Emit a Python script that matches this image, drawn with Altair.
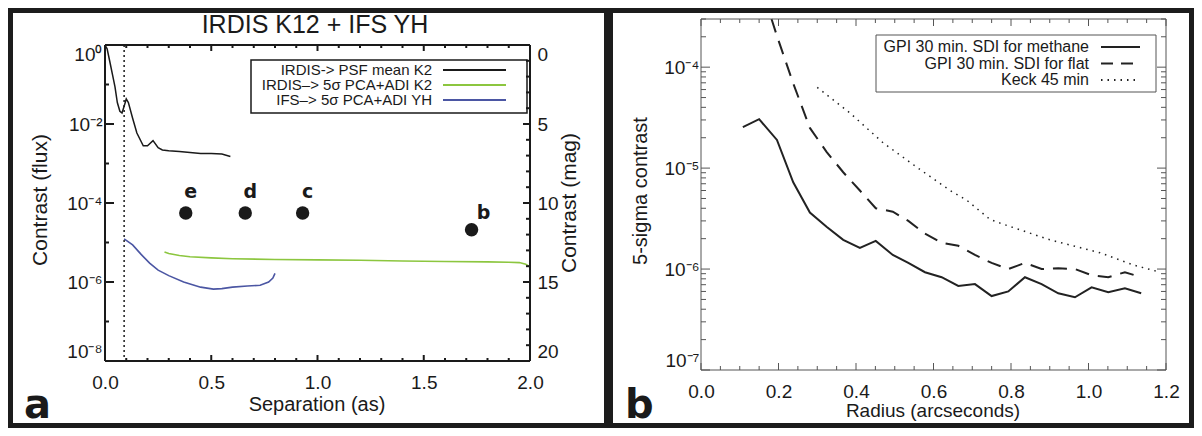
import altair as alt
import pandas as pd

FONT = "Liberation Sans"
BOLD_FONT = "DejaVu Sans"
INK = "#1a1a1a"
FRAME = "#1c1c1c"
GREY = "#555555"

# ---------------- panel a : data ----------------
title_a = "IRDIS K12 + IFS YH"
xlabel_a = "Separation (as)"
ylabel_a = "Contrast (flux)"
ylabel2_a = "Contrast (mag)"
tag_a = "a"

psf_sep = [0.0, 0.01, 0.024, 0.035, 0.047, 0.058, 0.07, 0.08, 0.09, 0.1, 0.11, 0.13,
           0.15, 0.18, 0.2, 0.226, 0.25, 0.27, 0.3, 0.35, 0.4, 0.45, 0.5, 0.55, 0.59]
psf_flux = [1.0, 0.8, 0.35, 0.18, 0.087, 0.035, 0.021, 0.019, 0.028, 0.043, 0.035, 0.014,
            0.0059, 0.0028, 0.0028, 0.0038, 0.0025, 0.0022, 0.0021, 0.002, 0.0019, 0.0018,
            0.0018, 0.00174, 0.0015]

k2_sep = [0.28, 0.30, 0.35, 0.40, 0.50, 0.60, 0.80, 1.00, 1.20, 1.40, 1.60, 1.80, 1.90, 1.95, 1.98, 2.00]
k2_flux = [5.75e-6, 5.25e-6, 4.68e-6, 4.37e-6, 4.07e-6, 3.89e-6, 3.72e-6, 3.63e-6, 3.55e-6,
           3.39e-6, 3.31e-6, 3.24e-6, 3.16e-6, 3.1e-6, 2.82e-6, 2.4e-6]

yh_sep = [0.09, 0.13, 0.17, 0.21, 0.25, 0.30, 0.37, 0.45, 0.51, 0.55, 0.60, 0.67, 0.73, 0.77, 0.79, 0.80]
yh_flux = [1.23e-5, 8.7e-6, 5.0e-6, 3.0e-6, 2.0e-6, 1.45e-6, 1.0e-6, 7.4e-7, 6.6e-7, 6.8e-7,
           7.4e-7, 7.9e-7, 8.3e-7, 1.0e-6, 1.26e-6, 1.66e-6]

planet_names = ["e", "d", "c", "b"]
planet_sep = [0.38, 0.66, 0.93, 1.725]
planet_flux = [5.6e-5, 5.6e-5, 5.6e-5, 2.1e-5]

iwa_sep = [0.09]

legend_a_labels = ["IRDIS-> PSF mean K2", "IRDIS\u2013> 5\u03c3 PCA+ADI K2", "IFS\u2013> 5\u03c3 PCA+ADI YH"]
legend_a_colors = [INK, "#8cc63f", "#4b56a3"]

ax_major = [0.0, 0.5, 1.0, 1.5, 2.0]
ax_minor = [0.1, 0.2, 0.3, 0.4, 0.6, 0.7, 0.8, 0.9, 1.1, 1.2, 1.3, 1.4, 1.6, 1.7, 1.8, 1.9]
ay_major = [1.0, 1e-2, 1e-4, 1e-6, 1e-8]
ay_labels = ["10\u2070", "10\u207b\u00b2", "10\u207b\u2074", "10\u207b\u2076", "10\u207b\u2078"]
ay_minor = [1e-1, 1e-3, 1e-5, 1e-7]
amag_major = [0, 5, 10, 15, 20]
amag_minor = [1, 2, 3, 4, 6, 7, 8, 9, 11, 12, 13, 14, 16, 17, 18, 19]

# ---------------- panel b : data ----------------
xlabel_b = "Radius (arcseconds)"
ylabel_b = "5-sigma contrast"
tag_b = "b"

meth_r = [0.108, 0.150, 0.196, 0.238, 0.281, 0.324, 0.367, 0.410, 0.451, 0.495, 0.535, 0.578,
          0.621, 0.664, 0.707, 0.750, 0.793, 0.836, 0.879, 0.922, 0.965, 1.008, 1.051, 1.094, 1.136]
meth_c = [2.55e-5, 3.05e-5, 1.9e-5, 7.24e-6, 3.63e-6, 2.63e-6, 1.95e-6, 1.62e-6, 1.9e-6, 1.38e-6,
          1.15e-6, 9.3e-7, 8.3e-7, 6.8e-7, 7.1e-7, 5.4e-7, 6.0e-7, 8.3e-7, 7.1e-7, 5.75e-7,
          5.25e-7, 6.6e-7, 5.9e-7, 6.45e-7, 5.75e-7]

flat_r = [0.182, 0.196, 0.238, 0.281, 0.324, 0.367, 0.410, 0.451, 0.495, 0.535, 0.578, 0.621,
          0.664, 0.707, 0.750, 0.793, 0.836, 0.879, 0.922, 0.965, 1.008, 1.051, 1.094, 1.136]
flat_c = [3.0e-4, 2.04e-4, 6.9e-5, 2.5e-5, 1.45e-5, 9.1e-6, 6.0e-6, 4.0e-6, 3.7e-6, 3.0e-6,
          2.24e-6, 1.82e-6, 1.7e-6, 1.38e-6, 1.15e-6, 1.0e-6, 1.15e-6, 1.0e-6, 1.02e-6, 1.0e-6,
          8.7e-7, 8.3e-7, 9.3e-7, 8.3e-7]

keck_r = [0.30, 0.385, 0.47, 0.557, 0.643, 0.686, 0.746, 0.772, 0.90, 1.03, 1.115, 1.185]
keck_c = [6.3e-5, 3.5e-5, 1.78e-5, 1.02e-5, 6.0e-6, 4.8e-6, 3.1e-6, 2.85e-6, 1.95e-6, 1.45e-6,
          1.1e-6, 9.3e-7]

legend_b_labels = ["GPI 30 min. SDI for methane", "GPI 30 min. SDI for flat", "Keck 45 min"]

bx_major = [0.0, 0.2, 0.4, 0.6, 0.8, 1.0, 1.2]
bx_minor = [0.05, 0.1, 0.15, 0.25, 0.3, 0.35, 0.45, 0.5, 0.55, 0.65, 0.7, 0.75,
            0.85, 0.9, 0.95, 1.05, 1.1, 1.15]
by_major = [1e-7, 1e-6, 1e-5, 1e-4]
by_labels = ["10\u207b\u2077", "10\u207b\u2076", "10\u207b\u2075", "10\u207b\u2074"]
by_minor = [k * 10.0 ** e for e in (-7, -6, -5) for k in range(2, 10)] + [2e-4, 3e-4]

# ---------------- layout (panel-local pixels) ----------------
PW_A, PW_B, PH = 600, 586, 420          # whole framed panels
AX0, AX1, AY0, AY1 = 97, 522, 37, 353   # plot area of panel a
BX0, BX1, BY0, BY1 = 93, 558, 11, 362   # plot area of panel b
one = pd.DataFrame({"k": [0]})


def label_expr(vals, labels):
    expr = "''"
    for v, lab in sorted(zip(vals, labels)):
        expr = f"datum.value > {v * 0.5!r} ? '{lab}' : " + expr
    return expr


def strip(x1, x2, y1, y2):
    return alt.Chart(one).mark_rect(color=FRAME).encode(
        x=alt.value(x1), x2=alt.value(x2), y=alt.value(y1), y2=alt.value(y2))


def frame(W, H, tl, tr, tt, tb):
    return [strip(0, W, 0, tt), strip(0, W, H - tb, H),
            strip(0, tl, 0, H), strip(W - tr, W, 0, H)]


def box(x0, x1, y0, y1, color, w):
    base = alt.Chart(one).mark_rule(color=color, strokeWidth=w)
    return [base.encode(x=alt.value(x0), x2=alt.value(x1), y=alt.value(y0)),
            base.encode(x=alt.value(x0), x2=alt.value(x1), y=alt.value(y1)),
            base.encode(x=alt.value(x0), y=alt.value(y0), y2=alt.value(y1)),
            base.encode(x=alt.value(x1), y=alt.value(y0), y2=alt.value(y1))]


def text(s, x, y, size, align="center", baseline="alphabetic", angle=0, font=FONT,
         weight="normal", color=INK):
    return alt.Chart(one).mark_text(text=s, fontSize=size, align=align, baseline=baseline,
                                    angle=angle, font=font, fontWeight=weight, color=color).encode(
        x=alt.value(x), y=alt.value(y))


def xticks(vals, X, y0, y1, L, color, w):
    base = alt.Chart(pd.DataFrame({"x": vals})).mark_rule(color=color, strokeWidth=w)
    return [base.encode(x=X, y=alt.value(y1 - L), y2=alt.value(y1)),
            base.encode(x=X, y=alt.value(y0), y2=alt.value(y0 + L))]


def yticks(vals, Y, x0, x1, L, color, w, left=True, right=True):
    base = alt.Chart(pd.DataFrame({"y": vals})).mark_rule(color=color, strokeWidth=w)
    out = []
    if left:
        out.append(base.encode(y=Y, x=alt.value(x0), x2=alt.value(x0 + L)))
    if right:
        out.append(base.encode(y=Y, x=alt.value(x1 - L), x2=alt.value(x1)))
    return out


def legend_row(label, color, tx, sx1, sx2, y, size, dash=None, width=1.5):
    kw = {"strokeDash": dash} if dash else {}
    rule = alt.Chart(one).mark_rule(color=color, strokeWidth=width, **kw).encode(
        x=alt.value(sx1), x2=alt.value(sx2), y=alt.value(y))
    return [text(label, tx, y, size, align="right", baseline="middle"), rule]


def curve(xs, ys, color, w, X, Y, dash=None):
    kw = {"strokeDash": dash} if dash else {}
    return alt.Chart(pd.DataFrame({"x": xs, "y": ys})).mark_line(
        color=color, strokeWidth=w, **kw).encode(x=X, y=Y)


def lab_axis(**kw):
    base = dict(labelFont=FONT, labelFontSize=19, labelColor=INK, ticks=False, tickSize=0,
                domain=False, grid=False, title=None)
    base.update(kw)
    return alt.Axis(**base)


# ---------------- panel a ----------------
Xa = alt.X("x:Q", scale=alt.Scale(domain=[0, 2], range=[AX0, AX1], nice=False, zero=False),
           axis=lab_axis(values=ax_major, format=".1f", labelFlush=False, labelPadding=12,
                         orient="bottom", offset=AY1 - PH))
Ya = alt.Y("y:Q", scale=alt.Scale(type="log", domain=[1e-8, 1], range=[AY1, AY0], nice=False),
           axis=lab_axis(values=ay_major, labelExpr=label_expr(ay_major, ay_labels),
                         labelPadding=3, labelFlush=True, orient="left", offset=-AX0))
Ymag = alt.Y("y:Q", scale=alt.Scale(domain=[0, 20], range=[AY0, AY1], nice=False, zero=False),
             axis=lab_axis(values=amag_major, format="d", labelPadding=7, labelFlush=True,
                           orient="right", offset=AX1 - PW_A))

planets = pd.DataFrame({"x": planet_sep, "y": planet_flux, "name": planet_names})

layers_a = []
layers_a += frame(PW_A, PH, 5, 4, 5, 5)
layers_a.append(alt.Chart(pd.DataFrame({"x": iwa_sep})).mark_rule(
    color=INK, strokeWidth=1.5, strokeDash=[2, 3]).encode(x=Xa, y=alt.value(AY0), y2=alt.value(AY1)))
layers_a += xticks(ax_major, Xa, AY0, AY1, 6, INK, 2)
layers_a += xticks(ax_minor, Xa, AY0, AY1, 3, INK, 2)
layers_a += yticks(ay_major, Ya, AX0, AX1, 9, INK, 2, right=False)
layers_a += yticks(ay_minor, Ya, AX0, AX1, 4, INK, 2, right=False)
layers_a.append(curve(psf_sep, psf_flux, legend_a_colors[0], 1.5, Xa, Ya))
layers_a.append(curve(k2_sep, k2_flux, legend_a_colors[1], 1.6, Xa, Ya))
layers_a.append(curve(yh_sep, yh_flux, legend_a_colors[2], 1.6, Xa, Ya))
layers_a.append(alt.Chart(planets).mark_circle(size=180, color=INK, opacity=1).encode(x=Xa, y=Ya))
layers_a.append(alt.Chart(planets).transform_filter("datum.name != 'b'").mark_text(
    font=BOLD_FONT, fontWeight="bold", fontSize=19, dx=5, dy=-21, color=INK).encode(
    x=Xa, y=Ya, text="name:N"))
layers_a.append(alt.Chart(planets).transform_filter("datum.name == 'b'").mark_text(
    font=BOLD_FONT, fontWeight="bold", fontSize=19, dx=12, dy=-17, color=INK).encode(
    x=Xa, y=Ya, text="name:N"))
layers_a.append(alt.Chart(one).mark_rect(fill="white", stroke=INK, strokeWidth=1.5).encode(
    x=alt.value(243), x2=alt.value(519), y=alt.value(52), y2=alt.value(105)))
for i, (lab, col) in enumerate(zip(legend_a_labels, legend_a_colors)):
    layers_a += legend_row(lab, col, 424, 435, 498, 62 + 15 * i, 15, width=2)
layers_a += box(AX0, AX1, AY0, AY1, INK, 2)
layers_a.append(text(title_a, 307, 25, 25))
layers_a.append(text(xlabel_a, 309, 403, 20))
layers_a.append(text(ylabel_a, 33, 192, 21, baseline="middle", angle=270))
layers_a.append(text(ylabel2_a, 562, 195, 21, baseline="middle", angle=270))
layers_a.append(text(tag_a, 16, 410, 40, align="left", font=BOLD_FONT, weight="bold"))

flux_a = alt.layer(*layers_a)
mag_a = alt.layer(*yticks(amag_major, Ymag, AX0, AX1, 7, INK, 2, left=False),
                  *yticks(amag_minor, Ymag, AX0, AX1, 4, INK, 2, left=False))
chart_a = alt.layer(flux_a, mag_a).resolve_scale(y="independent").properties(width=PW_A, height=PH)

# ---------------- panel b ----------------
Xb = alt.X("x:Q", scale=alt.Scale(domain=[0, 1.2], range=[BX0, BX1], nice=False, zero=False),
           axis=lab_axis(values=bx_major, format=".1f", labelFlush=False, labelPadding=12,
                         orient="bottom", offset=BY1 - PH))
Yb = alt.Y("y:Q", scale=alt.Scale(type="log", domain=[1e-7, 3e-4], range=[BY1, BY0], nice=False),
           axis=lab_axis(values=by_major, labelExpr=label_expr(by_major, by_labels),
                         labelPadding=2, labelFlush=True, orient="left", offset=-BX0))

layers_b = []
layers_b += frame(PW_B, PH, 5, 5, 5, 5)
layers_b += xticks(bx_major, Xb, BY0, BY1, 7, GREY, 1)
layers_b += xticks(bx_minor, Xb, BY0, BY1, 4, GREY, 1)
layers_b += yticks(by_major, Yb, BX0, BX1, 9, GREY, 1)
layers_b += yticks(by_minor, Yb, BX0, BX1, 5, GREY, 1)
layers_b.append(curve(meth_r, meth_c, "#222222", 2, Xb, Yb))
layers_b.append(curve(flat_r, flat_c, "#222222", 2, Xb, Yb, dash=[14, 9]))
layers_b.append(curve(keck_r, keck_c, "#222222", 1.5, Xb, Yb, dash=[1.5, 5]))
layers_b.append(alt.Chart(one).mark_rect(fill="white", stroke=GREY, strokeWidth=1).encode(
    x=alt.value(268), x2=alt.value(548), y=alt.value(27), y2=alt.value(84)))
dashes_b = [None, [12, 8], [1.5, 5]]
for i, (lab, dsh) in enumerate(zip(legend_b_labels, dashes_b)):
    layers_b += legend_row(lab, "#222222", 481, 493, 532, 39 + 16.5 * i, 16, dash=dsh, width=2)
layers_b += box(BX0, BX1, BY0, BY1, GREY, 1)
layers_b.append(text(xlabel_b, 325, 409, 19))
layers_b.append(text(ylabel_b, 33, 183, 20, baseline="middle", angle=270))
layers_b.append(text(tag_b, 17, 410, 40, align="left", font=BOLD_FONT, weight="bold"))

chart_b = alt.layer(*layers_b).properties(width=PW_B, height=PH)

chart = alt.hconcat(chart_a, chart_b, spacing=0).properties(padding=0).configure_view(strokeWidth=0)
chart.save("out.html", embed_options={"renderer": "svg", "actions": False})
